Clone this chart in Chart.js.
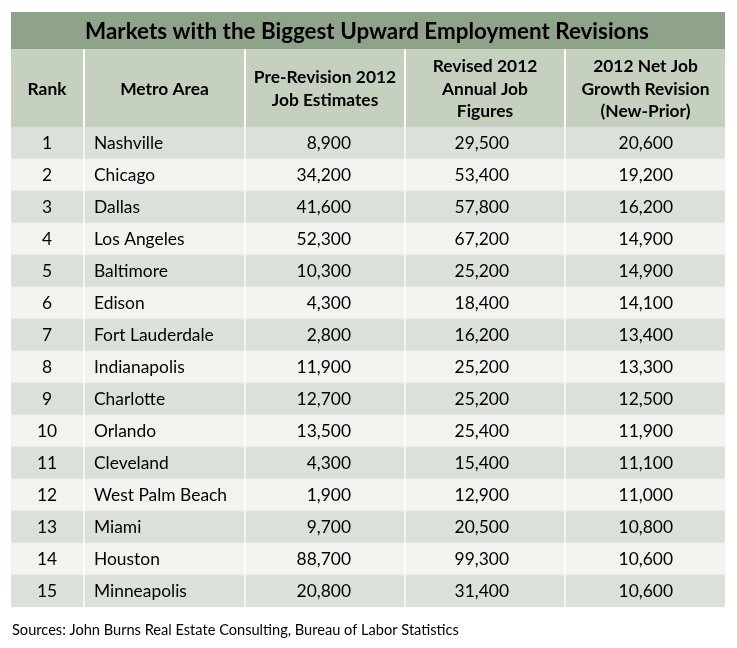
<!DOCTYPE html>
<html>
<head>
<meta charset="utf-8">
<script src="https://cdn.jsdelivr.net/npm/chart.js@4.4.1/dist/chart.umd.min.js"></script>
<style>
html, body { margin: 0; padding: 0; background: #fff; }
#wrap { width: 737px; height: 648px; }
</style>
</head>
<body>
<div id="wrap"><canvas id="tableChart" width="737" height="648"></canvas></div>
<script>
var title = "Markets with the Biggest Upward Employment Revisions";
var source = "Sources: John Burns Real Estate Consulting, Bureau of Labor Statistics";
var headers = [
	["Rank"],
	["Metro Area"],
	["Pre-Revision 2012", "Job Estimates"],
	["Revised 2012", "Annual Job", "Figures"],
	["2012 Net Job", "Growth Revision", "(New-Prior)"]
];
var ranks = ["1", "2", "3", "4", "5", "6", "7", "8", "9", "10", "11", "12", "13", "14", "15"];
var metros = ["Nashville", "Chicago", "Dallas", "Los Angeles", "Baltimore", "Edison", "Fort Lauderdale",
	"Indianapolis", "Charlotte", "Orlando", "Cleveland", "West Palm Beach", "Miami", "Houston", "Minneapolis"];
var preRevision = [8900, 34200, 41600, 52300, 10300, 4300, 2800, 11900, 12700, 13500, 4300, 1900, 9700, 88700, 20800];
var revised = [29500, 53400, 57800, 67200, 25200, 18400, 16200, 25200, 25200, 25400, 15400, 12900, 20500, 99300, 31400];
var netRevision = [20600, 19200, 16200, 14900, 14900, 14100, 13400, 13300, 12500, 11900, 11100, 11000, 10800, 10600, 10600];

var color = {
	title: "#8FA38A",
	header: "#C5D0BF",
	odd: "#DBE1D9",
	even: "#F1F3EF",
	line: "#FFFFFF",
	text: "#000000"
};
var font = "Lato, 'Open Sans', sans-serif";

// column edges on the x scale, and where each column's text sits
var colEdges = [0, 73, 234, 394, 554, 714];
var colText = [
	{ align: "center", at: 36 },
	{ align: "left", at: 83 },
	{ align: "right", at: 340 },
	{ align: "right", at: 498 },
	{ align: "right", at: 662 }
];
var titleHeight = 37;
var headerHeight = 78;

function fmt(n) {
	return n.toLocaleString("en-US");
}

function cellValues(c) {
	if (c === 0) return ranks;
	if (c === 1) return metros;
	if (c === 2) return preRevision.map(fmt);
	if (c === 3) return revised.map(fmt);
	return netRevision.map(fmt);
}

var datasets = [];
for (var c = 0; c < colEdges.length - 1; c++) {
	(function (c) {
		var left = colEdges[c] + (c > 0 ? 1 : 0);
		var right = colEdges[c + 1] - (c < colEdges.length - 2 ? 1 : 0);
		datasets.push({
			label: "col" + c,
			data: ranks.map(function () { return [left, right]; }),
			backgroundColor: function (ctx) {
				return ctx.dataIndex % 2 === 0 ? color.odd : color.even;
			},
			borderWidth: 0,
			barPercentage: 1,
			categoryPercentage: 1,
			grouped: false
		});
	})(c);
}

var tablePlugin = {
	id: "tablePlugin",
	beforeDatasetsDraw: function (chart) {
		var ctx = chart.ctx;
		var x = chart.scales.x;
		var area = chart.chartArea;
		var headTop = area.top - headerHeight;
		var titleTop = headTop - titleHeight;
		ctx.save();
		ctx.fillStyle = color.title;
		ctx.fillRect(area.left, titleTop, area.right - area.left, titleHeight);
		ctx.fillStyle = color.text;
		ctx.font = "bold 22.4px " + font;
		ctx.textAlign = "center";
		ctx.textBaseline = "middle";
		ctx.fillText(title, (area.left + area.right) / 2 - 1, titleTop + titleHeight / 2 + 1);

		for (var c = 0; c < headers.length; c++) {
			var l = x.getPixelForValue(colEdges[c]) + (c > 0 ? 1 : 0);
			var r = x.getPixelForValue(colEdges[c + 1]) - (c < headers.length - 1 ? 1 : 0);
			ctx.fillStyle = color.header;
			ctx.fillRect(l, headTop, r - l, headerHeight);
			ctx.fillStyle = color.text;
			ctx.font = "bold 17.4px " + font;
			var lines = headers[c];
			var lh = 22.5;
			var y0 = headTop + headerHeight / 2 - (lines.length - 1) * lh / 2 + 1;
			for (var k = 0; k < lines.length; k++) {
				ctx.fillText(lines[k], (l + r) / 2, y0 + k * lh);
			}
		}
		ctx.restore();
	},
	afterDatasetsDraw: function (chart) {
		var ctx = chart.ctx;
		var x = chart.scales.x;
		var y = chart.scales.y;
		ctx.save();
		ctx.fillStyle = color.text;
		ctx.font = "17.4px " + font;
		ctx.textBaseline = "middle";
		for (var c = 0; c < colText.length; c++) {
			var vals = cellValues(c);
			ctx.textAlign = colText[c].align;
			for (var i = 0; i < vals.length; i++) {
				ctx.fillText(vals[i], x.getPixelForValue(colText[c].at), y.getPixelForValue(i));
			}
		}
		ctx.font = "14.6px " + font;
		ctx.textAlign = "left";
		ctx.fillText(source, 12, chart.height - 18);
		ctx.restore();
	}
};

var chartCanvas = document.getElementById("tableChart").getContext("2d");
new Chart(chartCanvas, {
	type: "bar",
	data: { labels: ranks, datasets: datasets },
	options: {
		indexAxis: "y",
		responsive: false,
		animation: false,
		events: [],
		layout: { padding: { left: 11, right: 12, top: 127, bottom: 41 } },
		scales: {
			x: { type: "linear", min: 0, max: 714, display: false },
			y: { type: "category", offset: true, display: false }
		},
		plugins: {
			legend: { display: false },
			tooltip: { enabled: false },
			title: { display: false }
		}
	},
	plugins: [tablePlugin]
});
</script>
</body>
</html>
